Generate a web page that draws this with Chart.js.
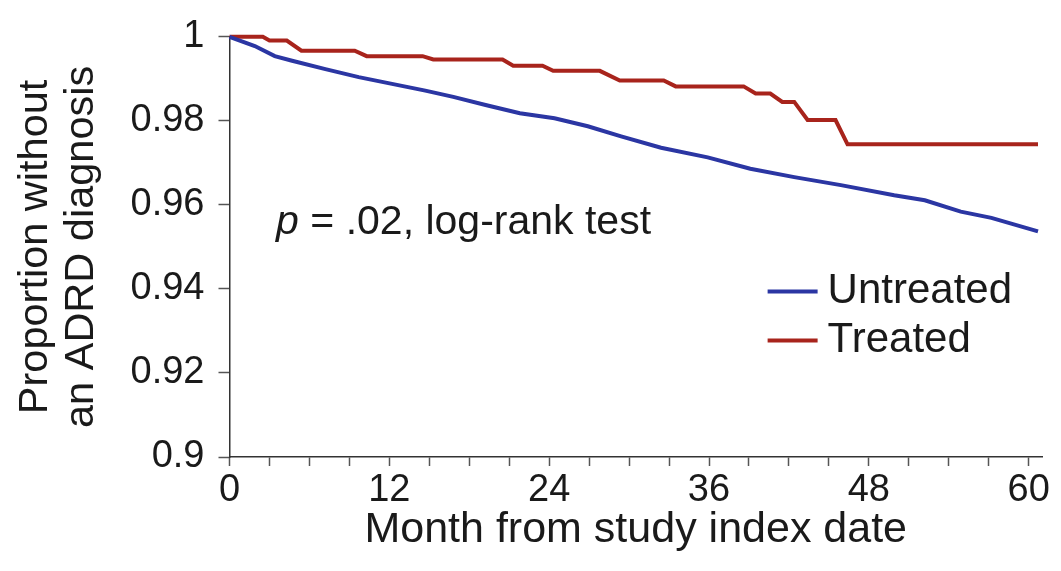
<!DOCTYPE html>
<html>
<head>
<meta charset="utf-8">
<script src="https://cdn.jsdelivr.net/npm/chart.js@4.4.1/dist/chart.umd.min.js"></script>
<style>
  html, body { margin: 0; padding: 0; background: #fff; }
  #wrap { width: 1061px; height: 571px; }
</style>
</head>
<body>
<div id="wrap"><canvas id="kmChart" width="1061" height="571"></canvas></div>
<script>
// Kaplan-Meier curves (month, proportion without ADRD diagnosis)
var untreatedMonths = [0, 1.9, 3.4, 4.7, 7.2, 9.7, 12.2, 14.7, 16.8, 19.3, 21.8, 24.4, 26.9, 29.4, 32.4, 35.9, 39.1, 42.4, 45.9, 49.9, 52.2, 54.9, 57.2, 60.7];
var untreatedValues = [1.0, 0.9978, 0.9954, 0.9943, 0.9923, 0.9904, 0.9888, 0.9872, 0.9857, 0.9837, 0.9818, 0.9806, 0.9787, 0.9763, 0.9736, 0.9713, 0.9686, 0.9666, 0.9647, 0.9623, 0.9611, 0.9584, 0.9569, 0.9537];

var treatedMonths = [0, 2.5, 3.0, 4.3, 5.4, 9.4, 10.3, 14.5, 15.3, 20.5, 21.3, 23.5, 24.3, 27.8, 29.3, 32.6, 33.5, 38.6, 39.5, 40.6, 41.5, 42.4, 43.4, 45.5, 46.4, 60.7];
var treatedValues = [1.0, 1.0, 0.9991, 0.9991, 0.9967, 0.9967, 0.9954, 0.9954, 0.9946, 0.9946, 0.9931, 0.9931, 0.9919, 0.9919, 0.9896, 0.9896, 0.9882, 0.9882, 0.9865, 0.9865, 0.9845, 0.9845, 0.9802, 0.9802, 0.9744, 0.9744];

var seriesNames = ['Untreated', 'Treated'];
var seriesColors = ['#2b36a3', '#a8241c'];

// axis ticks: labelled every 12 months, minor marks every 3
var monthTicks = [0, 3, 6, 9, 12, 15, 18, 21, 24, 27, 30, 33, 36, 39, 42, 45, 48, 51, 54, 57, 60];
var proportionTicks = [0.9, 0.92, 0.94, 0.96, 0.98, 1];

var fontFamily = '"Liberation Sans", Arial, sans-serif';
var textColor = '#1a1a1a';
var axisColor = '#333';

function toPoints(xs, ys) {
    return xs.map(function (x, i) { return { x: x, y: ys[i] }; });
}

// draws the p-value note and the legend inside the plot
var notesPlugin = {
    id: 'notes',
    afterDraw: function (chart) {
        var ctx = chart.ctx;
        var xs = chart.scales.x, ys = chart.scales.y;
        ctx.save();
        ctx.fillStyle = textColor;
        ctx.textBaseline = 'middle';
        ctx.textAlign = 'left';

        // p = .02, log-rank test
        var nx = xs.getPixelForValue(3.5), ny = ys.getPixelForValue(0.9558);
        ctx.font = 'italic 41px ' + fontFamily;
        ctx.fillText('p', nx, ny);
        var pw = ctx.measureText('p').width;
        ctx.font = '41px ' + fontFamily;
        ctx.fillText(' = .02, log-rank test', nx + pw, ny);

        // legend
        var lx = xs.getPixelForValue(40.4);
        var rows = [0.9394, 0.9277];
        chart.data.datasets.forEach(function (ds, i) {
            var y = ys.getPixelForValue(rows[i]);
            ctx.strokeStyle = ds.borderColor;
            ctx.lineWidth = 4;
            ctx.beginPath();
            ctx.moveTo(lx, y);
            ctx.lineTo(lx + 50, y);
            ctx.stroke();
            ctx.font = '42px ' + fontFamily;
            ctx.fillText(ds.label, lx + 60, y);
        });
        ctx.restore();
    }
};

var ctx = document.getElementById('kmChart').getContext('2d');

var kmChart = new Chart(ctx, {
    type: 'line',
    data: {
        datasets: [
            {
                label: seriesNames[0],
                data: toPoints(untreatedMonths, untreatedValues),
                borderColor: seriesColors[0],
                borderWidth: 4,
                pointRadius: 0,
                tension: 0,
                fill: false,
                clip: 6
            },
            {
                label: seriesNames[1],
                data: toPoints(treatedMonths, treatedValues),
                borderColor: seriesColors[1],
                borderWidth: 4,
                pointRadius: 0,
                tension: 0,
                fill: false,
                clip: 6
            }
        ]
    },
    options: {
        responsive: false,
        animation: false,
        events: [],
        layout: { padding: { top: 29, right: 19, bottom: 0, left: 0 } },
        plugins: {
            legend: { display: false },
            tooltip: { enabled: false }
        },
        scales: {
            x: {
                type: 'linear',
                min: 0,
                max: 61,
                afterBuildTicks: function (scale) {
                    scale.ticks = monthTicks.map(function (v) { return { value: v }; });
                },
                afterFit: function (scale) { scale.height = 114; },
                ticks: {
                    autoSkip: false,
                    maxRotation: 0,
                    padding: 2,
                    color: textColor,
                    font: { family: fontFamily, size: 38 },
                    callback: function (v) { return v % 12 === 0 ? String(v) : ''; }
                },
                grid: { drawOnChartArea: false, drawTicks: true, tickLength: 9, tickWidth: 1.5, color: '#555' },
                border: { display: true, color: axisColor, width: 1.5 },
                title: {
                    display: true,
                    text: 'Month from study index date',
                    color: textColor,
                    font: { family: fontFamily, size: 43, lineHeight: 1.15 },
                    padding: { top: 0, bottom: 16 }
                }
            },
            y: {
                min: 0.9,
                max: 1,
                afterBuildTicks: function (scale) {
                    scale.ticks = proportionTicks.map(function (v) { return { value: v }; });
                },
                afterFit: function (scale) { scale.width = 229.5; },
                ticks: {
                    padding: 14,
                    color: textColor,
                    font: { family: fontFamily, size: 38 },
                    callback: function (v) { return String(Number(v.toFixed(2))); }
                },
                grid: { drawOnChartArea: false, drawTicks: true, tickLength: 11, tickWidth: 1.5, color: '#555' },
                border: { display: true, color: axisColor, width: 1.5 },
                title: {
                    display: true,
                    text: ['Proportion without', 'an ADRD diagnosis'],
                    color: textColor,
                    font: { family: fontFamily, size: 41.5, lineHeight: 1.1 },
                    padding: { top: 13, bottom: 0 }
                }
            }
        }
    },
    plugins: [notesPlugin]
});
</script>
</body>
</html>
